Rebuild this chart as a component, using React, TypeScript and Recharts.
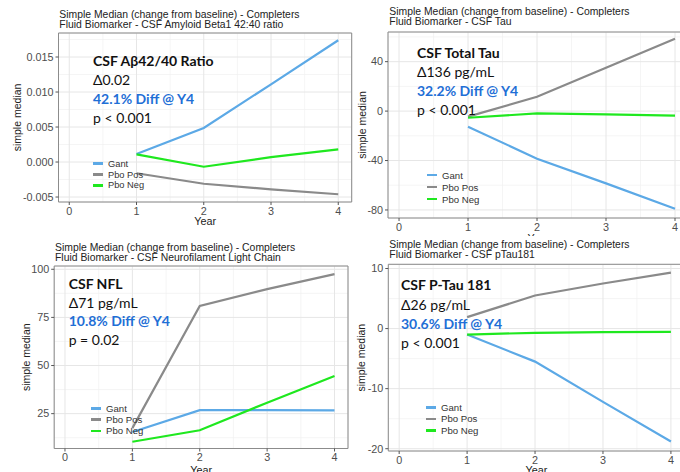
import { CartesianGrid, Legend, Line, LineChart, ReferenceArea, XAxis, YAxis } from "recharts"

const years = [1, 2, 3, 4]
const xTicks = [0, 1, 2, 3, 4]
const xMinor = [0.5, 1.5, 2.5, 3.5]
const seriesNames = ["Gant", "Pbo Pos", "Pbo Neg"]
const seriesColors = ["#5ca9e6", "#8a8a8a", "#1fe81f"]

// CSF Abeta 42/40 ratio
const abGant = [0.00114, 0.00486, 0.0111, 0.0174]
const abPboPos = [-0.0016, -0.0031, -0.0039, -0.0046]
const abPboNeg = [0.0011, -0.00067, 0.0007, 0.0018]
const abTicks = [-0.005, 0, 0.005, 0.01, 0.015]
const abMinor = [-0.0025, 0.0025, 0.0075, 0.0125, 0.0175]

// CSF total tau
const tauGant = [-12.6, -38.5, -58.5, -79]
const tauPboPos = [-4.5, 11.6, 35, 58.6]
const tauPboNeg = [-5.4, -1.9, -2.7, -3.7]
const tauTicks = [-80, -40, 0, 40]
const tauMinor = [-60, -20, 20, 60]

// CSF NfL
const nflGant = [15.5, 26.8, 26.8, 26.7]
const nflPboPos = [17.5, 81, 89.7, 97.5]
const nflPboNeg = [10.4, 16.4, 30.7, 44.6]
const nflTicks = [25, 50, 75, 100]
const nflMinor = [12.5, 37.5, 62.5, 87.5]

// CSF pTau181
const ptauGant = [-1.0, -5.5, -12.2, -18.8]
const ptauPboPos = [1.9, 5.5, 7.5, 9.3]
const ptauPboNeg = [-1.0, -0.7, -0.6, -0.55]
const ptauTicks = [-20, -10, 0, 10]
const ptauMinor = [-15, -5, 5]

const titleLine1 = "Simple Median (change from baseline) - Completers"
const subtitles = [
  "Fluid Biomarker - CSF Amyloid Beta1 42:40 ratio",
  "Fluid Biomarker - CSF Tau",
  "Fluid Biomarker - CSF Neurofilament Light Chain",
  "Fluid Biomarker - CSF pTau181",
]
const notes = [
  ["CSF Aβ42/40 Ratio", "Δ0.02", "42.1% Diff @ Y4", "p < 0.001"],
  ["CSF Total Tau", "Δ136 pg/mL", "32.2% Diff @ Y4", "p < 0.001"],
  ["CSF NFL", "Δ71 pg/mL", "10.8% Diff @ Y4", "p = 0.02"],
  ["CSF P-Tau 181", "Δ26 pg/mL", "30.6% Diff @ Y4", "p < 0.001"],
]

const sans = "'Liberation Sans', Arial, sans-serif"
const noteFont = "Lato, 'Open Sans', sans-serif"

const toRows = (gant: number[], pos: number[], neg: number[]) =>
  years.map((year, i) => ({ year, Gant: gant[i], "Pbo Pos": pos[i], "Pbo Neg": neg[i] }))

const panels = [
  {
    box: { left: 0, top: 0, width: 360, height: 236 },
    margin: { top: 33, right: 8.3, bottom: 22, left: 0 },
    yWidth: 58.5, yearOffset: 3.5, yLabelOffset: 17,
    yDomain: [-0.00571, 0.01843], yTicks: abTicks, yMinor: abMinor,
    fmt: (v: number) => v.toFixed(3),
    data: toRows(abGant, abPboPos, abPboNeg),
    legend: { left: 93, top: 158.5, rowH: 10.7, fontSize: 9.3 },
    title: { x: 59.3, y: 18.2, gap: 9.7 },
    note: { x: 93, y: [66, 85, 104, 122.7] },
  },
  {
    box: { left: 340, top: 0, width: 340, height: 236 },
    margin: { top: 32, right: 11.2, bottom: 6, left: 0 },
    yWidth: 48, yearOffset: 4.5, yLabelOffset: 22.7,
    yDomain: [-86.5, 64], yTicks: tauTicks, yMinor: tauMinor,
    fmt: (v: number) => String(v),
    data: toRows(tauGant, tauPboPos, tauPboNeg),
    legend: { left: 87, top: 169, rowH: 12, fontSize: 9.6 },
    title: { x: 389.3, y: 15, gap: 10 },
    note: { x: 417, y: [58.3, 76.9, 95.8, 114.6] },
  },
  {
    box: { left: 0, top: 236, width: 360, height: 236 },
    margin: { top: 30, right: 12, bottom: 11.5, left: 0 },
    yWidth: 54.2, yearOffset: 5.5, yLabelOffset: 26.7,
    yDomain: [6.9, 101.7], yTicks: nflTicks, yMinor: nflMinor,
    fmt: (v: number) => String(v),
    data: toRows(nflGant, nflPboPos, nflPboNeg),
    legend: { left: 91, top: 166.7, rowH: 11.3, fontSize: 9.6 },
    title: { x: 55, y: 251, gap: 10 },
    note: { x: 68.7, y: [288.7, 307.5, 326, 344.7] },
  },
  {
    box: { left: 340, top: 236, width: 340, height: 236 },
    margin: { top: 28.3, right: 15.5, bottom: 9, left: 0 },
    yWidth: 48.3, yearOffset: 3.5, yLabelOffset: 21.7,
    yDomain: [-20.38, 10.7], yTicks: ptauTicks, yMinor: ptauMinor,
    fmt: (v: number) => String(v),
    data: toRows(ptauGant, ptauPboPos, ptauPboNeg),
    legend: { left: 86, top: 166, rowH: 11.3, fontSize: 9.6 },
    title: { x: 389.3, y: 247.5, gap: 10 },
    note: { x: 401, y: [290.3, 309.5, 328.7, 347.7] },
  },
]

function LegendRows({ rowH, fontSize }: { rowH: number; fontSize: number }) {
  return (
    <div style={{ fontFamily: sans, fontSize, color: "#333" }}>
      {seriesNames.map((name, i) => (
        <div key={name} style={{ display: "flex", alignItems: "center", height: rowH }}>
          <span style={{ display: "inline-block", width: 10, height: 2.8, background: seriesColors[i], marginRight: 5 }} />
          <span>{name}</span>
        </div>
      ))}
    </div>
  )
}

function Panel({ p }: { p: (typeof panels)[number] }) {
  const tick = { fontSize: 10.8, fill: "#4d4d4d", fontFamily: sans }
  return (
    <div style={{ position: "absolute", left: p.box.left, top: p.box.top, width: p.box.width, height: p.box.height, overflow: "hidden" }}>
      <LineChart width={360} height={236} data={p.data} margin={p.margin}>
        <CartesianGrid stroke="#f1f1f1" strokeWidth={0.7} verticalValues={xMinor} horizontalValues={p.yMinor} />
        <CartesianGrid stroke="#e6e6e6" strokeWidth={1} />
        <ReferenceArea x1={-0.16} x2={4.2} y1={p.yDomain[0]} y2={p.yDomain[1]} fill="none" stroke="#8c8c8c" strokeWidth={1} ifOverflow="visible" />
        <XAxis
          dataKey="year"
          type="number"
          domain={[-0.16, 4.2]}
          ticks={xTicks}
          allowDataOverflow
          axisLine={false}
          tickSize={3}
          tickMargin={2}
          tickLine={{ stroke: "#555" }}
          tick={tick}
          height={12}
          label={{ value: "Year", position: "bottom", offset: p.yearOffset, fontSize: 10.8, fill: "#222", fontFamily: sans }}
        />
        <YAxis
          type="number"
          domain={p.yDomain}
          ticks={p.yTicks}
          allowDataOverflow
          axisLine={false}
          tickSize={3}
          tickMargin={2}
          tickLine={{ stroke: "#555" }}
          tick={tick}
          tickFormatter={p.fmt}
          width={p.yWidth}
          label={{ value: "simple median", angle: -90, position: "insideLeft", offset: p.yLabelOffset, fontSize: 10.5, fill: "#222", fontFamily: sans, style: { textAnchor: "middle" } }}
        />
        {seriesNames.map((name, i) => (
          <Line key={name} dataKey={name} type="linear" stroke={seriesColors[i]} strokeWidth={2.2} dot={false} isAnimationActive={false} />
        ))}
        <Legend
          layout="vertical"
          align="center"
          verticalAlign="middle"
          wrapperStyle={{ left: p.legend.left, top: p.legend.top, width: 80 }}
          content={() => <LegendRows rowH={p.legend.rowH} fontSize={p.legend.fontSize} />}
        />
      </LineChart>
    </div>
  )
}

export default function App() {
  return (
    <div style={{ position: "absolute", left: 0, top: 0, width: 680, height: 472, overflow: "hidden", background: "#fff" }}>
      {panels.map((p, i) => (
        <Panel key={i} p={p} />
      ))}
      <svg width={680} height={472} style={{ position: "absolute", left: 0, top: 0, pointerEvents: "none" }}>
        {panels.map((p, i) => (
          <g key={i}>
            <text x={p.title.x} y={p.title.y} fontSize={10.4} fontFamily={sans} fill="#222">{titleLine1}</text>
            <text x={p.title.x} y={p.title.y + p.title.gap} fontSize={10.4} fontFamily={sans} fill="#222">{subtitles[i]}</text>
            {notes[i].map((line, j) => (
              <text
                key={j}
                x={p.note.x}
                y={p.note.y[j]}
                fontSize={14}
                fontFamily={noteFont}
                fontWeight={j === 0 || j === 2 ? 700 : 400}
                fill={j === 2 ? "#1f6fd6" : "#111"}
              >
                {line}
              </text>
            ))}
          </g>
        ))}
      </svg>
    </div>
  )
}
